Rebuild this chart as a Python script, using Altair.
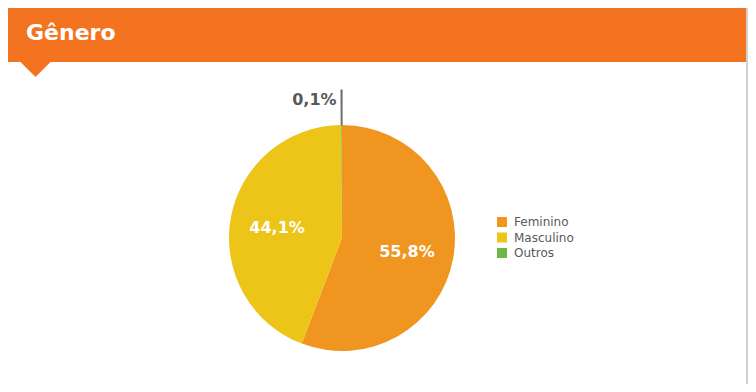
import altair as alt
import pandas as pd

# ---- data ----
categories = ["Feminino", "Masculino", "Outros"]
values = [55.8, 44.1, 0.1]
labels = ["55,8%", "44,1%", "0,1%"]
colors = ["#f0951f", "#edc418", "#6cb64a"]
title_text = ["Gênero"]

df = pd.DataFrame({"cat": categories, "value": values, "label": labels,
                   "order": list(range(len(categories)))})
one = pd.DataFrame({"t": title_text})

FONT = "DejaVu Sans"
ORANGE = "#f37321"
GREY_TXT = "#58595b"
CX, CY, R = 334, 230, 113

card = alt.Chart(one).mark_rect(color="white").encode(
    x=alt.value(0), x2=alt.value(738), y=alt.value(0), y2=alt.value(376))
header = alt.Chart(one).mark_rect(color=ORANGE).encode(
    x=alt.value(0), x2=alt.value(738), y=alt.value(0), y2=alt.value(54))
pointer = alt.Chart(one).mark_point(
    shape="M-1,0L1,0L0,1Z", filled=True, color=ORANGE, opacity=1, size=961, strokeWidth=0
).encode(x=alt.value(27.5), y=alt.value(53.5))
title = alt.Chart(one).mark_text(
    align="left", baseline="alphabetic", font=FONT, fontSize=22, fontWeight="bold", color="white"
).encode(x=alt.value(18), y=alt.value(31.5), text="t:N")

base = alt.Chart(df).encode(
    theta=alt.Theta("value:Q", stack=True),
    order=alt.Order("order:Q"),
    x=alt.value(CX), y=alt.value(CY),
)

pie = base.mark_arc(radius=R).encode(
    color=alt.Color(
        "cat:N",
        scale=alt.Scale(domain=categories, range=colors),
        sort=categories,
        legend=alt.Legend(
            title=None, orient="none", legendX=488, legendY=208,
            symbolType="square", symbolSize=100, symbolStrokeWidth=0,
            labelFont=FONT, labelFontSize=12, labelColor=GREY_TXT,
            labelOffset=6, rowPadding=3.5, padding=0,
        ),
    )
)

leader = base.mark_arc(radius=148, radius2=R, strokeWidth=1.2).encode(
    fill=alt.value("transparent"),
    stroke=alt.condition("datum.cat == 'Outros'", alt.value("#6d6e70"), alt.value("transparent")),
)

inner_labels = base.mark_text(
    radius=66, dy=2, font=FONT, fontSize=16, fontWeight="bold", color="white"
).encode(
    text="label:N",
    opacity=alt.condition("datum.cat == 'Outros'", alt.value(0), alt.value(1)),
)

outer_label = base.mark_text(
    radius=138, align="right", dx=-5, font=FONT, fontSize=16, fontWeight="bold", color=GREY_TXT
).encode(
    text="label:N",
    opacity=alt.condition("datum.cat == 'Outros'", alt.value(1), alt.value(0)),
)

chart = alt.layer(
    card, header, pointer, title, pie, leader, inner_labels, outer_label
).properties(
    width=740, height=376,
    autosize=alt.AutoSizeParams(type="none"),
    padding=0,
    background="#d4d2c8",
).configure_view(stroke=None)

chart.save("out.html", embed_options={"renderer": "svg", "actions": False})
